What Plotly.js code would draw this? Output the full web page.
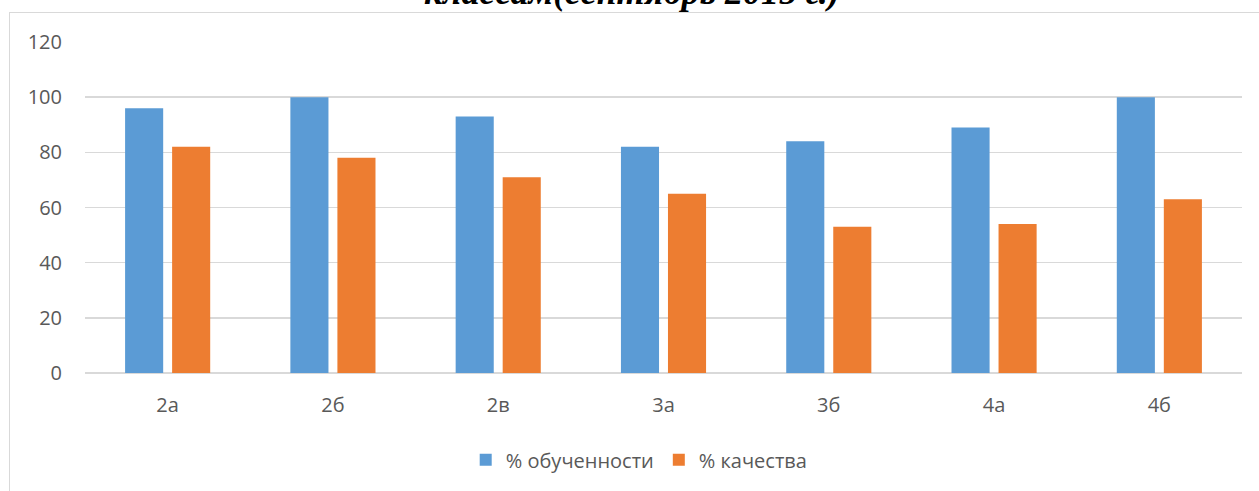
<!DOCTYPE html>
<html>
<head>
<meta charset="utf-8">
<script src="https://cdn.plot.ly/plotly-3.0.1.min.js"></script>
<style>
html,body{margin:0;padding:0;background:#fff;overflow:hidden;}
#frame{position:absolute;left:9px;top:12px;width:1300px;height:600px;border:1.5px solid #d9d9d9;box-sizing:border-box;}
#chart{position:absolute;left:0;top:0;width:1259px;height:491px;}
</style>
</head>
<body>
<div id="frame"></div>
<div id="chart"></div>
<script>
const categories = ['2а', '2б', '2в', '3а', '3б', '4а', '4б'];
const obuchennost = [96, 100, 93, 82, 84, 89, 100];
const kachestvo = [82, 78, 71, 65, 53, 54, 63];
const seriesNames = ['% обученности', '% качества'];
const yTicks = [0, 20, 40, 60, 80, 100, 120];
const titleText = 'классам(сентябрь 2015 г.)';

const data = [
  {type: 'bar', x: categories, y: obuchennost, name: seriesNames[0], marker: {color: '#5B9BD5', line: {width: 0}}},
  {type: 'bar', x: categories, y: kachestvo, name: seriesNames[1], marker: {color: '#ED7D31', line: {width: 0}}}
];
const layout = {
  width: 1259, height: 491,
  margin: {l: 85, r: 17, t: 42, b: 115},
  paper_bgcolor: 'rgba(0,0,0,0)',
  plot_bgcolor: 'rgba(0,0,0,0)',
  barmode: 'group',
  bargap: 0.431,
  bargroupgap: 0.19,
  font: {family: 'Open Sans, sans-serif', size: 20, color: '#595959'},
  annotations: [{
    text: '<b><i>' + titleText + '</i></b>',
    font: {family: 'Liberation Serif, serif', size: 36, color: '#000'},
    xref: 'paper', x: 0.5, xanchor: 'center', xshift: -32,
    yref: 'paper', y: 1, yanchor: 'middle', yshift: 50,
    showarrow: false
  }],
  xaxis: {
    type: 'category', showgrid: false, zeroline: false, showline: false,
    ticks: '', ticklabelstandoff: 18,
    tickfont: {size: 20, color: '#595959'}
  },
  yaxis: {
    range: [0, 120], tickvals: yTicks, ticks: '',
    showgrid: true, gridcolor: '#d9d9d9', gridwidth: 1.5,
    zeroline: true, zerolinecolor: '#d9d9d9', zerolinewidth: 1.5,
    showline: false, ticklabelstandoff: 22,
    tickfont: {size: 20, color: '#595959'}
  },
  showlegend: true,
  legend: {
    orientation: 'h', x: 0.479, xanchor: 'center', y: -0.262, yanchor: 'middle',
    font: {size: 20, color: '#595959'}, itemwidth: 30, traceorder: 'normal'
  }
};
Plotly.newPlot('chart', data, layout, {displayModeBar: false, staticPlot: true});
</script>
</body>
</html>
